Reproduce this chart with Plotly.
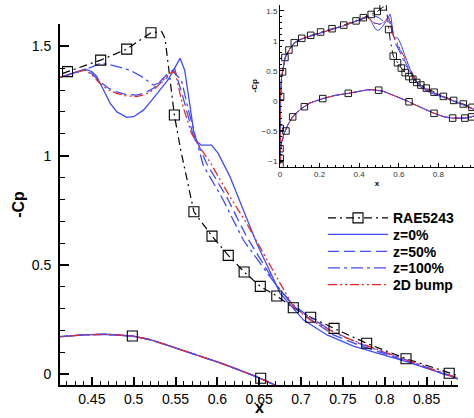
import plotly.graph_objects as go

# ---------------- data ----------------
# RAE5243 experimental data (markers)
rae_up_x = [0.0, 0.001, 0.003, 0.013, 0.025, 0.045, 0.072, 0.11, 0.155, 0.205, 0.263, 0.322, 0.384,
            0.421, 0.4606, 0.4917, 0.5207, 0.5486, 0.572, 0.5936, 0.613, 0.632, 0.6513, 0.671,
            0.6907, 0.7115, 0.7394, 0.7784, 0.8254, 0.877, 0.926, 0.97]
rae_up_cp = [-0.80, -0.46, 0.07, 0.48, 0.72, 0.845, 0.967, 1.04, 1.09, 1.145, 1.2, 1.26, 1.33,
             1.384, 1.437, 1.487, 1.562, 1.186, 0.743, 0.632, 0.544, 0.468, 0.402, 0.358,
             0.3045, 0.2606, 0.210, 0.1417, 0.0713, 0.0046, -0.055, -0.11]
rae_lo_x = [0.0, 0.001, 0.03, 0.064, 0.123, 0.216, 0.345, 0.4984, 0.6518, 0.778, 0.872, 0.934, 0.968]
rae_lo_cp = [-1.08, -0.96, -0.505, -0.27, -0.10, 0.035, 0.123, 0.175, -0.018, -0.21, -0.29, -0.29, -0.27]
# extra points of the RAE5243 connecting line (rounded shock corner)
rae_corner_x = [0.5335, 0.5375, 0.556]
rae_corner_cp = [1.567, 1.536, 1.03]

# CFD: common upper-surface leading part and trailing part
up_lead_x = [0.0, 0.001, 0.003, 0.008, 0.015, 0.025, 0.045, 0.072, 0.11, 0.155, 0.205, 0.263, 0.322, 0.384]
up_lead_cp = [-1.05, -0.3, 0.15, 0.4, 0.55, 0.7, 0.84, 0.96, 1.03, 1.08, 1.135, 1.19, 1.25, 1.32]
up_tail_x = [0.926, 0.97, 1.0]
up_tail_cp = [-0.07, -0.13, -0.17]

# CFD: lower surface (all cases coincide)
lo_x = [0.0, 0.002, 0.008, 0.02, 0.04, 0.064, 0.1, 0.15, 0.216, 0.28, 0.345, 0.412, 0.44, 0.4657, 0.4984,
        0.52, 0.5455, 0.575, 0.605, 0.645, 0.669, 0.72, 0.778, 0.83, 0.872, 0.934, 0.968, 1.0]
lo_cp = [-1.05, -0.85, -0.7, -0.55, -0.4, -0.27, -0.15, -0.04, 0.035, 0.09, 0.123, 0.172, 0.180, 0.183, 0.175,
         0.158, 0.126, 0.09, 0.05, -0.008, -0.049, -0.13, -0.21, -0.27, -0.29, -0.29, -0.27, -0.22]

# CFD: upper surface, shock region, per case
z0_x = [0.412, 0.428, 0.442, 0.450, 0.456, 0.464, 0.472, 0.480, 0.4917, 0.500, 0.5116, 0.522, 0.5315,
        0.541, 0.549, 0.5554, 0.561, 0.5733, 0.581, 0.593, 0.601, 0.615, 0.631, 0.647, 0.663, 0.675,
        0.703, 0.731, 0.7625, 0.826, 0.886]
z0_cp = [1.358, 1.378, 1.395, 1.385, 1.361, 1.300, 1.239, 1.200, 1.175, 1.178, 1.208, 1.255, 1.300,
         1.346, 1.400, 1.445, 1.391, 1.071, 1.048, 1.048, 1.010, 0.904, 0.751, 0.599, 0.469, 0.370,
         0.248, 0.180, 0.129, 0.058, -0.018]

z50_x = [0.412, 0.428, 0.442, 0.450, 0.4598, 0.470, 0.4797, 0.490, 0.5036, 0.514, 0.5235, 0.532, 0.539,
         0.549, 0.561, 0.571, 0.575, 0.587, 0.611, 0.635, 0.653, 0.67, 0.69, 0.71, 0.7385, 0.77, 0.826, 0.886]
z50_cp = [1.358, 1.378, 1.393, 1.375, 1.338, 1.308, 1.292, 1.280, 1.277, 1.288, 1.308, 1.340, 1.369,
          1.397, 1.239, 1.094, 1.071, 0.965, 0.812, 0.629, 0.515, 0.41, 0.315, 0.255, 0.180, 0.132, 0.060, -0.018]

z100_x = [0.412, 0.428, 0.442, 0.450, 0.4598, 0.470, 0.4956, 0.510, 0.5235, 0.535, 0.547, 0.557, 0.566,
          0.575, 0.583, 0.607, 0.631, 0.651, 0.67, 0.69, 0.71, 0.7385, 0.77, 0.826, 0.886]
z100_cp = [1.358, 1.378, 1.395, 1.405, 1.422, 1.418, 1.391, 1.360, 1.323, 1.338, 1.384, 1.346, 1.20,
           1.071, 0.957, 0.797, 0.614, 0.508, 0.41, 0.32, 0.262, 0.195, 0.14, 0.065, -0.018]

bump_x = [0.412, 0.428, 0.442, 0.450, 0.4598, 0.470, 0.4797, 0.490, 0.5036, 0.514, 0.5235, 0.533, 0.543,
          0.5494, 0.559, 0.569, 0.581, 0.591, 0.615, 0.635, 0.655, 0.663, 0.6907, 0.711, 0.750, 0.826, 0.886]
bump_cp = [1.358, 1.376, 1.392, 1.370, 1.330, 1.300, 1.285, 1.274, 1.270, 1.280, 1.300, 1.335, 1.376,
           1.384, 1.224, 1.102, 1.026, 0.972, 0.812, 0.690, 0.553, 0.50, 0.309, 0.248, 0.172, 0.065, -0.018]

names = ["z=0%", "z=50%", "z=100%", "2D bump"]

# main tick values
x_ticks = [0.45, 0.5, 0.55, 0.6, 0.65, 0.7, 0.75, 0.8, 0.85]
x_tick_text = ["0.45", "0.5", "0.55", "0.6", "0.65", "0.7", "0.75", "0.8", "0.85"]
y_ticks = [0, 0.5, 1, 1.5]
y_tick_text = ["0", "0.5", "1", "1.5"]
ix_ticks = [0, 0.2, 0.4, 0.6, 0.8]
iy_ticks = [-1, -0.5, 0, 0.5, 1, 1.5]

# ---------------- styles ----------------
BLUE = "rgb(64,76,255)"
RED = "rgb(232,40,40)"
styles = {
    "z=0%": dict(color=BLUE, dash="solid"),
    "z=50%": dict(color=BLUE, dash="11px,5px"),
    "z=100%": dict(color=BLUE, dash="12px,4px,3px,4px"),
    "2D bump": dict(color=RED, dash="9px,3px,2px,3px,2px,3px"),
}
series = {
    "z=0%": (z0_x, z0_cp),
    "z=50%": (z50_x, z50_cp),
    "z=100%": (z100_x, z100_cp),
    "2D bump": (bump_x, bump_cp),
}
RAE_DASH = "8px,4px,2px,4px"
legend_ids = {"RAE5243": "legend", "z=0%": "legend2", "z=50%": "legend3",
              "z=100%": "legend4", "2D bump": "legend5"}

fig = go.Figure()

# legend-only entry for RAE5243
fig.add_trace(go.Scatter(x=[None], y=[None], mode="lines+markers", name="RAE5243", legend="legend",
                         line=dict(color="black", width=1.2, dash=RAE_DASH),
                         marker=dict(symbol="square-open", size=10, color="black", line=dict(width=1.1)),
                         showlegend=True))

# RAE connecting line (upper surface, with corner points)
pairs = sorted(zip(rae_up_x + rae_corner_x, rae_up_cp + rae_corner_cp))
rl_x = [p[0] for p in pairs]
rl_cp = [p[1] for p in pairs]
for xa, ya, w in (("x", "y", 1.2), ("x2", "y2", 0.9)):
    fig.add_trace(go.Scatter(x=rl_x, y=rl_cp, mode="lines", xaxis=xa, yaxis=ya, showlegend=False,
                             line=dict(color="black", width=w, dash=RAE_DASH), hoverinfo="skip"))

# CFD curves
for nm in names:
    sx, sc = series[nm]
    ux = up_lead_x + sx + up_tail_x
    uc = up_lead_cp + sc + up_tail_cp
    st = styles[nm]
    fig.add_trace(go.Scatter(x=ux, y=uc, mode="lines", name=nm, legend=legend_ids[nm], showlegend=True,
                             line=dict(color=st["color"], width=1.3, dash=st["dash"])))
    fig.add_trace(go.Scatter(x=lo_x, y=lo_cp, mode="lines", showlegend=False,
                             line=dict(color=st["color"], width=1.3, dash=st["dash"])))
    fig.add_trace(go.Scatter(x=ux, y=uc, mode="lines", xaxis="x2", yaxis="y2", showlegend=False,
                             line=dict(color=st["color"], width=1.0, dash=st["dash"])))
    fig.add_trace(go.Scatter(x=lo_x, y=lo_cp, mode="lines", xaxis="x2", yaxis="y2", showlegend=False,
                             line=dict(color=st["color"], width=1.0, dash=st["dash"])))

# RAE markers
for xa, ya, sz, lw in (("x", "y", 10, 1.1), ("x2", "y2", 6.5, 0.9)):
    fig.add_trace(go.Scatter(x=rae_up_x + rae_lo_x, y=rae_up_cp + rae_lo_cp, mode="markers",
                             xaxis=xa, yaxis=ya, showlegend=False,
                             marker=dict(symbol="square-open", size=sz, color="black", line=dict(width=lw))))

FONT = "Liberation Sans, Arial, sans-serif"
W, H = 474, 418
ml, mr, mt, mb = 60, 0, 5, 33
pw, ph = W - ml - mr, H - mt - mb

row_centers = [218.3, 234.8, 251.7, 268.3, 285.0]
legends = {}
for lid, yc in zip(["legend", "legend2", "legend3", "legend4", "legend5"], row_centers):
    legends[lid] = dict(x=(323 - ml) / pw, y=1 - (yc - mt) / ph, xanchor="left", yanchor="middle",
                        bgcolor="rgba(0,0,0,0)", font=dict(size=14, family=FONT, weight="bold"),
                        itemwidth=60, itemclick=False, itemdoubleclick=False)

main_x_domain = [0, (458 - ml) / pw]

fig.update_layout(
    width=W, height=H,
    margin=dict(l=ml, r=mr, t=mt, b=mb, autoexpand=False),
    paper_bgcolor="white", plot_bgcolor="rgba(0,0,0,0)",
    font=dict(family=FONT, color="black"),
    showlegend=True,
    **legends,
    xaxis=dict(domain=main_x_domain, range=[0.412, 0.8875], showline=True, linecolor="black",
               linewidth=2, mirror=False, showgrid=False, zeroline=False, ticks="inside", ticklen=8,
               tickwidth=1.5, tickcolor="black", tickvals=x_ticks, ticktext=x_tick_text,
               tickfont=dict(size=14), anchor="y", automargin=False,
               minor=dict(dtick=0.01, tick0=0, ticks="inside", ticklen=4, tickwidth=1, tickcolor="black")),
    yaxis=dict(domain=[0, (385 - 24) / ph], range=[-0.049, 1.602], showline=True, linecolor="black",
               linewidth=2, mirror=False, showgrid=False, zeroline=False, ticks="inside", ticklen=9,
               tickwidth=1.5, tickcolor="black", tickvals=y_ticks, ticktext=y_tick_text,
               tickfont=dict(size=14), anchor="x", ticklabelstandoff=4, automargin=False,
               minor=dict(dtick=0.1, tick0=0, ticks="inside", ticklen=5, tickwidth=1, tickcolor="black"),
               title=dict(text="<b>-Cp</b>", font=dict(size=16), standoff=3)),
    xaxis2=dict(domain=[(280 - ml) / pw, 1.0], range=[0, 0.98], showline=True, linecolor="black",
                linewidth=1, showgrid=False, zeroline=False, ticks="inside", ticklen=4, tickwidth=1,
                tickcolor="black", tickvals=ix_ticks, tickfont=dict(size=8, color="#333"), anchor="y2",
                automargin=False,
                minor=dict(dtick=0.04, tick0=0, ticks="inside", ticklen=2, tickwidth=1, tickcolor="black"),
                title=dict(text="<b>x</b>", font=dict(size=8), standoff=2)),
    yaxis2=dict(domain=[(385 - 166.7) / ph, 1.0], range=[-1.1, 1.595], showline=True, linecolor="black",
                linewidth=1, showgrid=False, zeroline=False, ticks="inside", ticklen=4, tickwidth=1,
                tickcolor="black", tickvals=iy_ticks, tickfont=dict(size=8, color="#333"), anchor="x2",
                automargin=False,
                minor=dict(dtick=0.1, tick0=0, ticks="inside", ticklen=2, tickwidth=1, tickcolor="black"),
                title=dict(text="<b>-Cp</b>", font=dict(size=8), standoff=2)),
    annotations=[dict(text="<b>x</b>", xref="paper", yref="paper",
                      x=(main_x_domain[0] + main_x_domain[1]) / 2, y=(385 - 407) / ph,
                      xanchor="center", yanchor="middle", showarrow=False, borderpad=0,
                      font=dict(size=16))],
)

fig.write_html("out.html", config={"displayModeBar": False},
               post_script="document.body.style.margin='0';document.body.style.padding='0';")
